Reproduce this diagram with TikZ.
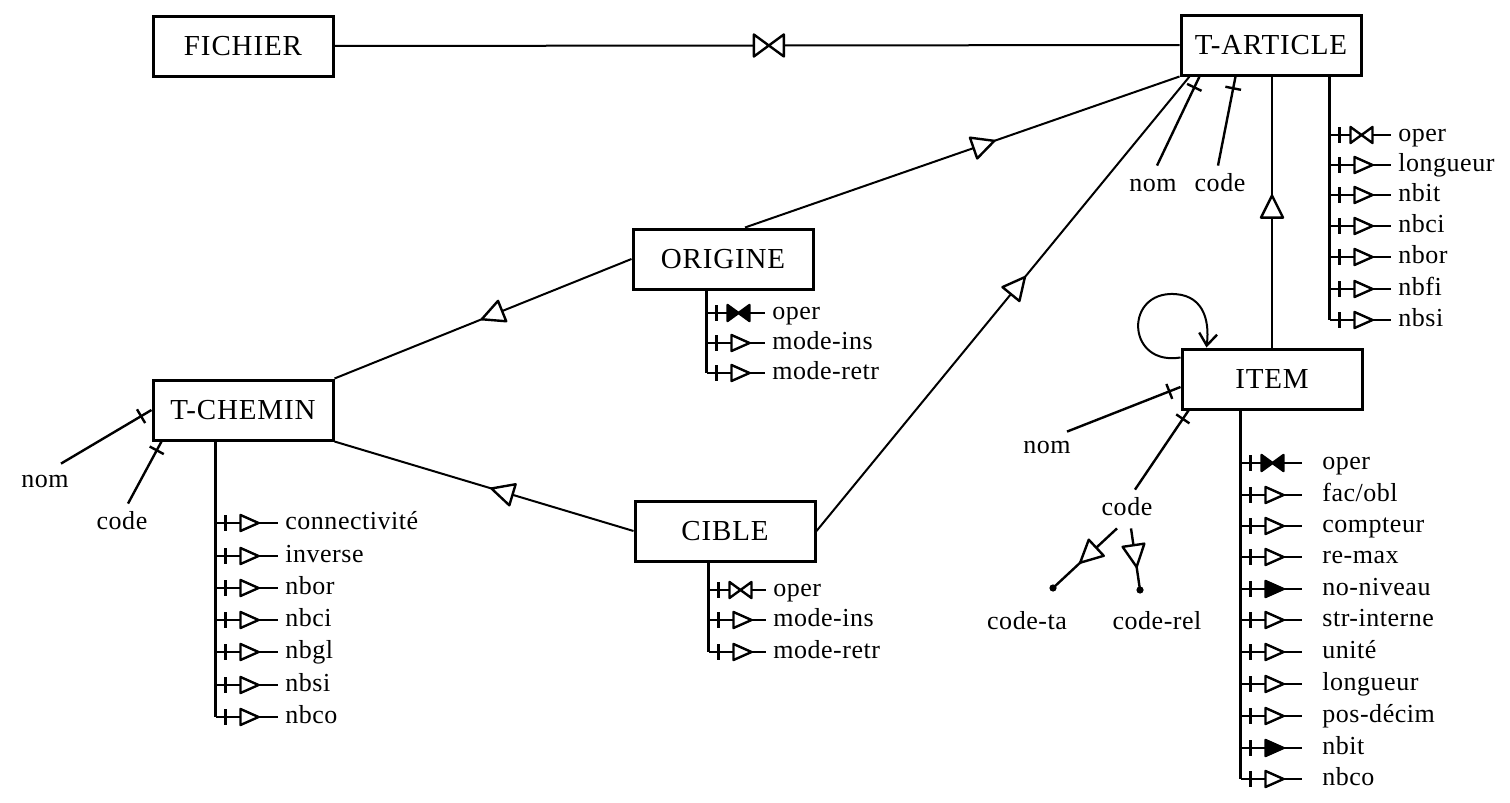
\documentclass[tikz,border=0pt]{standalone}
\usepackage{fontspec}
\setmainfont{Liberation Serif}
\newfontfamily\boxfont[LetterSpace=3]{Liberation Serif}
\newfontfamily\attrfont[LetterSpace=2]{Liberation Serif}
\usetikzlibrary{decorations.markings,arrows.meta}
\tikzset{
  ent/.style={draw, line width=1.5pt, minimum width=90pt, minimum height=30pt, inner sep=0pt, font=\boxfont\fontsize{14.5}{17}\selectfont},
  lbl/.style={inner xsep=3.5pt, inner ysep=4pt, text height=8.5pt, text depth=2.5pt, font=\attrfont\fontsize{13}{15}\selectfont},
  attr/.style={lbl, anchor=west},
  conn/.style={line width=1pt},
  aline/.style={line width=1.2pt},
  sym/.style={line width=1.2pt, line join=round},
  atri/.style={postaction=decorate, decoration={markings,
     mark=at position 5pt with {\draw[sym] (0,-8)--(0,8);},
     mark=at position 17pt with {\draw[sym,fill=white] (-9,-8)--(9,0)--(-9,8)--cycle;}}},
  atrif/.style={postaction=decorate, decoration={markings,
     mark=at position 5pt with {\draw[sym] (0,-8)--(0,8);},
     mark=at position 17pt with {\draw[sym,fill=black] (-9,-8)--(9,0)--(-9,8)--cycle;}}},
  abow/.style={postaction=decorate, decoration={markings,
     mark=at position 5pt with {\draw[sym] (0,-8)--(0,8);},
     mark=at position 16pt with {\draw[sym,fill=white] (-11,-8)--(0,0)--(-11,8)--cycle (11,-8)--(0,0)--(11,8)--cycle;}}},
  abowf/.style={postaction=decorate, decoration={markings,
     mark=at position 5pt with {\draw[sym] (0,-8)--(0,8);},
     mark=at position 16pt with {\draw[sym,fill=black] (-11,-8)--(0,0)--(-11,8)--cycle (11,-8)--(0,0)--(11,8)--cycle;}}},
  ctri/.style={postaction=decorate, decoration={markings,
     mark=at position #1 with {\draw[sym,fill=white] (-11,-11)--(11,0)--(-11,11)--cycle;}}},
  cbow/.style={postaction=decorate, decoration={markings,
     mark=at position #1 with {\draw[sym,fill=white] (-15,-11)--(0,0)--(-15,11)--cycle (15,-11)--(0,0)--(15,11)--cycle;}}},
  ptick/.style={postaction=decorate, decoration={markings,
     mark=at position #1 with {\draw[sym] (0,-8)--(0,8);}}},
}
\begin{document}
\begin{tikzpicture}[x=0.5pt,y=-0.5pt]
\useasboundingbox (0,0) rectangle (1510,803);

% entities
\node[ent] (fichier)  at (243,46)  {FICHIER};
\node[ent] (tarticle) at (1271,45) {T-ARTICLE};
\node[ent] (origine)  at (723,259) {ORIGINE};
\node[ent] (tchemin)  at (243,410) {T-CHEMIN};
\node[ent] (cible)    at (725,531) {CIBLE};
\node[ent] (item)     at (1272,379) {ITEM};

% relationships
\draw[conn, cbow=0.514] (fichier.east) -- (tarticle.west);
\draw[conn, ctri=0.55] ([xshift=11pt]origine.north) -- (tarticle.south west);
\draw[conn, ctri=0.54] (cible.east) -- ([xshift=5pt]tarticle.south west);
\draw[conn, ctri=0.47] (origine.west) -- (tchemin.north east);
\draw[conn, ctri=0.44] (cible.west) -- (tchemin.south east);
\draw[conn, ctri=0.52] (item.north) -- (item.north |- tarticle.south);
\draw[conn, -{Straight Barb[length=6pt,width=9pt,line width=1.2pt]}]
  ([yshift=-5pt]item.north west) .. controls (1128,366) and (1124,296) .. (1170,294)
  .. controls (1202,293) and (1210,318) .. ([xshift=13pt]item.north west);

% identifiers of T-ARTICLE
\node[lbl] (tanom)  at (1153,185) {nom};
\node[lbl] (tacode) at (1220,185) {code};
\draw[aline, ptick=-6pt] ([xshift=2pt]tanom.north) -- ([xshift=10pt]tarticle.south west);
\draw[aline, ptick=-6pt] ([xshift=-1pt]tacode.north) -- ([xshift=28pt]tarticle.south west);

% identifiers of T-CHEMIN
\node[lbl] (tcnom)  at (45,481)  {nom};
\node[lbl] (tccode) at (122,523) {code};
\draw[aline, ptick=-6pt] ([xshift=8pt,yshift=-1pt]tcnom.north) -- (tchemin.west);
\draw[aline, ptick=-5pt] ([xshift=3pt]tccode.north) -- ([xshift=5pt]tchemin.south west);

% identifiers of ITEM
\node[lbl] (itnom)  at (1047,447) {nom};
\node[lbl] (itcode) at (1127,509) {code};
\node[lbl] (itcta)  at (1027,623) {code-ta};
\node[lbl] (itcrel) at (1157,623) {code-rel};
\draw[aline, ptick=-6pt] ([xshift=10pt,yshift=-2pt]itnom.north) -- ([yshift=-4pt]item.west);
\draw[aline, ptick=-5pt] ([xshift=4pt]itcode.north) -- ([xshift=4pt]item.south west);
\coordinate (cta)  at (1053,588);
\coordinate (crel) at (1140,590);
\draw[aline, ctri=0.45] ([xshift=-5pt]itcode.south) -- (cta);
\draw[aline, ctri=0.45] ([xshift=2pt]itcode.south) -- (crel);
\fill (cta) circle[radius=1.8pt];
\fill (crel) circle[radius=1.8pt];

% attributes of T-ARTICLE
\coordinate (tas) at ([xshift=75pt]tarticle.south west);
\foreach \t/\y/\s [count=\i] in {oper/135/abow, longueur/165/atri, nbit/195/atri, nbci/226/atri, nbor/257/atri, nbfi/289/atri, nbsi/320/atri}{
  \node[attr] (ta\i) at (1391,\y) {\t};
  \draw[aline,\s] (tas |- ta\i.west) -- (ta\i.west);
}
\draw[aline] (tas) -- (tas |- ta7.west);

% attributes of ORIGINE
\coordinate (ors) at ([xshift=37.5pt]origine.south west);
\foreach \t/\y/\s [count=\i] in {oper/313/abowf, mode-ins/343/atri, mode-retr/373/atri}{
  \node[attr] (or\i) at (765,\y) {\t};
  \draw[aline,\s] (ors |- or\i.west) -- (or\i.west);
}
\draw[aline] (ors) -- (ors |- or3.west);

% attributes of CIBLE
\coordinate (cis) at ([xshift=37.5pt]cible.south west);
\foreach \t/\y/\s [count=\i] in {oper/590/abow, mode-ins/620/atri, mode-retr/652/atri}{
  \node[attr] (ci\i) at (766,\y) {\t};
  \draw[aline,\s] (cis |- ci\i.west) -- (ci\i.west);
}
\draw[aline] (cis) -- (cis |- ci3.west);

% attributes of T-CHEMIN
\coordinate (tcs) at ([xshift=32pt]tchemin.south west);
\foreach \t/\y/\s [count=\i] in {connectivité/523/atri, inverse/556/atri, nbor/588/atri, nbci/620/atri, nbgl/652/atri, nbsi/685/atri, nbco/717/atri}{
  \node[attr] (tc\i) at (278,\y) {\t};
  \draw[aline,\s] (tcs |- tc\i.west) -- (tc\i.west);
}
\draw[aline] (tcs) -- (tcs |- tc7.west);

% attributes of ITEM
\coordinate (its) at ([xshift=30pt]item.south west);
\foreach \t/\y/\s [count=\i] in {oper/463/abowf, {fac/obl}/495/atri, compteur/526/atri, re-max/557/atri, no-niveau/589/atrif, str-interne/620/atri, unité/652/atri, longueur/684/atri, pos-décim/716/atri, nbit/748/atrif, nbco/779/atri}{
  \node[attr, inner xsep=10pt] (it\i) at (1302,\y) {\t};
  \draw[aline,\s] (its |- it\i.west) -- (it\i.west);
}
\draw[aline] (its) -- (its |- it11.west);
\end{tikzpicture}
\end{document}
